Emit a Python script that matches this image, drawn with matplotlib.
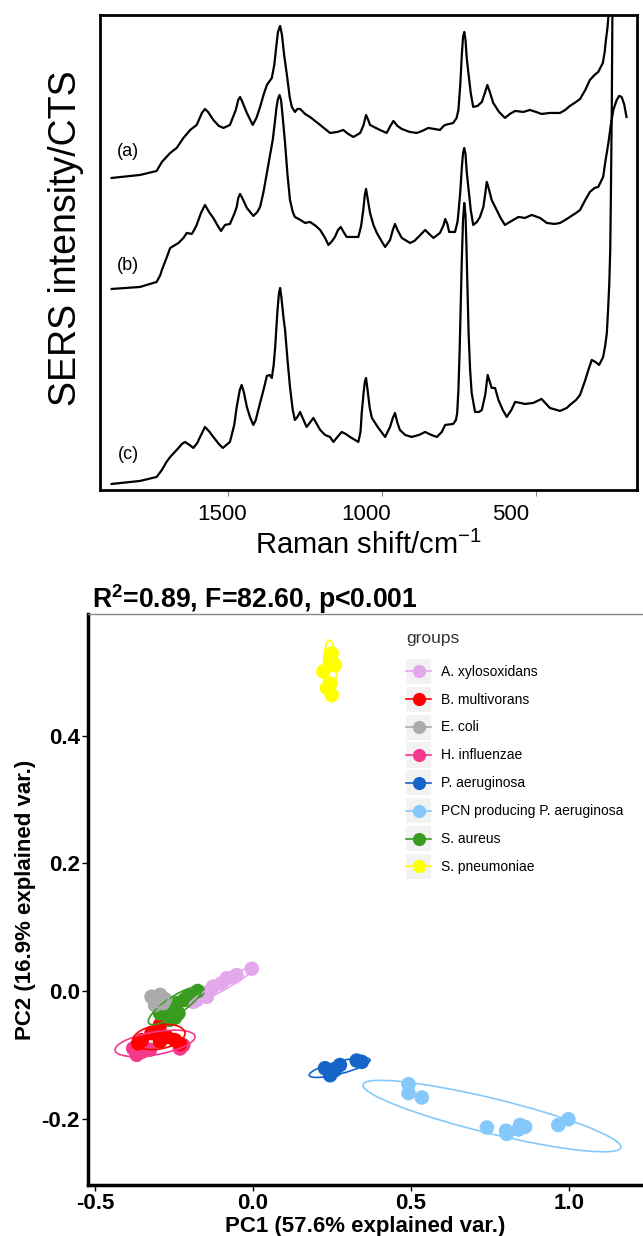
import matplotlib
matplotlib.use('Agg')
import matplotlib.pyplot as plt
import matplotlib.transforms as mtransforms
from matplotlib.patches import Ellipse, Rectangle
from matplotlib.lines import Line2D
from matplotlib.legend_handler import HandlerBase

plt.rcParams['font.family'] = ['Liberation Sans', 'DejaVu Sans']
plt.rcParams['mathtext.fontset'] = 'custom'
plt.rcParams['mathtext.rm'] = 'Liberation Sans'
plt.rcParams['mathtext.bf'] = 'Liberation Sans:bold'
plt.rcParams['mathtext.default'] = 'regular'

# ---------------- SERS spectra (Raman shift cm-1, intensity a.u.) ----------------
shift_a = [1878, 1786, 1732, 1715, 1688, 1667, 1645, 1623, 1602, 1585, 1575, 1565, 1548,
           1530, 1515, 1494, 1475, 1467, 1461, 1455, 1439, 1420, 1408, 1396, 1385, 1374,
           1358, 1350, 1344, 1338, 1331, 1325, 1318, 1309, 1300, 1293, 1283, 1275, 1266,
           1250, 1234, 1201, 1169, 1145, 1126, 1110, 1093, 1071, 1060, 1052, 1045, 1039,
           1020, 1007, 985, 973, 963, 950, 936, 910, 887, 870, 850, 830, 812, 800, 795,
           769, 758, 752, 746, 741, 737, 733, 729, 725, 720, 712, 704, 690, 676, 665, 658,
           650, 639, 620, 601, 585, 568, 541, 520, 500, 482, 455, 422, 405, 390, 370, 357,
           340, 325, 310, 298, 283, 277, 273, 268, 265, 260]
int_a = [312, 315, 319, 328, 337, 342, 352, 360, 365, 377, 381, 378, 370, 364, 362, 365,
         380, 390, 393, 389, 377, 365, 372, 383, 395, 405, 412, 425, 442, 458, 464, 455,
         435, 415, 393, 383, 378, 381, 381, 376, 373, 365, 357, 358, 360, 356, 353, 357,
         365, 375, 370, 365, 362, 360, 357, 364, 369, 364, 361, 358, 357, 359, 362, 361,
         360, 364, 365, 367, 372, 380, 405, 435, 453, 458, 450, 432, 418, 397, 383, 384,
         388, 398, 405, 398, 387, 378, 372, 376, 379, 378, 380, 378, 376, 377, 377, 380,
         384, 388, 391, 400, 410, 415, 418, 427, 438, 450, 462, 473, 510]

shift_b = [1878, 1786, 1732, 1720, 1715, 1700, 1688, 1661, 1645, 1634, 1618, 1610, 1602,
           1588, 1575, 1562, 1548, 1535, 1523, 1510, 1494, 1480, 1472, 1467, 1461, 1454,
           1439, 1418, 1405, 1396, 1385, 1374, 1365, 1355, 1348, 1343, 1338, 1333, 1328,
           1323, 1315, 1307, 1299, 1290, 1283, 1265, 1250, 1234, 1215, 1201, 1185, 1174,
           1162, 1153, 1143, 1134, 1125, 1115, 1093, 1077, 1068, 1061, 1056, 1052, 1047,
           1039, 1028, 1017, 1000, 990, 974, 965, 958, 950, 936, 909, 895, 882, 860, 847,
           833, 812, 800, 795, 788, 782, 763, 755, 752, 746, 741, 737, 733, 729, 725, 720,
           712, 704, 692, 682, 671, 665, 660, 654, 644, 628, 615, 601, 585, 574, 557, 536,
           514, 487, 465, 440, 422, 405, 390, 370, 357, 340, 325, 310, 298, 282, 274, 265,
           257, 249, 238, 230, 222, 214, 206]
int_b = [201, 203, 208, 215, 220, 232, 242, 247, 252, 257, 256, 260, 265, 277, 285, 278,
         272, 265, 259, 265, 266, 276, 283, 292, 296, 292, 282, 274, 278, 283, 298, 317,
         332, 350, 368, 382, 391, 395, 390, 374, 347, 315, 290, 278, 273, 270, 267, 268,
         264, 260, 252, 245, 249, 253, 260, 263, 258, 253, 253, 253, 264, 280, 295, 301,
         292, 277, 265, 257, 248, 243, 250, 260, 266, 260, 252, 247, 249, 253, 260, 256,
         252, 257, 265, 271, 266, 258, 258, 268, 277, 298, 322, 337, 342, 336, 318, 303,
         280, 265, 268, 273, 283, 296, 308, 302, 290, 280, 272, 265, 268, 270, 273, 272,
         275, 272, 267, 266, 267, 270, 273, 277, 280, 290, 298, 302, 303, 313, 330, 347,
         365, 380, 390, 394, 393, 386, 373]

shift_c = [1878, 1786, 1732, 1720, 1715, 1700, 1688, 1661, 1650, 1640, 1625, 1613, 1600,
           1591, 1575, 1560, 1548, 1530, 1517, 1494, 1480, 1472, 1462, 1456, 1449, 1439,
           1428, 1418, 1410, 1402, 1385, 1374, 1365, 1358, 1352, 1347, 1340, 1335, 1331,
           1327, 1320, 1315, 1307, 1299, 1290, 1283, 1275, 1266, 1258, 1245, 1235, 1223,
           1212, 1201, 1185, 1169, 1158, 1145, 1131, 1118, 1104, 1077, 1070, 1066, 1060,
           1056, 1052, 1047, 1040, 1033, 1012, 1000, 990, 974, 965, 958, 950, 942, 925,
           904, 880, 860, 840, 822, 806, 795, 769, 760, 756, 752, 748, 745, 741, 737, 733,
           729, 726, 722, 719, 714, 709, 698, 685, 676, 665, 657, 650, 644, 633, 622, 608,
           595, 580, 568, 550, 536, 509, 482, 470, 455, 422, 400, 390, 370, 357, 340, 330,
           319, 307, 295, 282, 275, 270, 266, 262, 259, 257, 254, 252, 249]
int_c = [6, 9, 13, 18, 20, 28, 33, 42, 46, 48, 45, 42, 47, 53, 63, 58, 53, 46, 42, 48,
         65, 83, 100, 105, 98, 83, 72, 65, 70, 80, 100, 114, 115, 112, 125, 143, 178, 196,
         202, 193, 172, 160, 130, 103, 80, 70, 73, 78, 72, 63, 67, 72, 66, 60, 55, 53, 48,
         53, 58, 56, 53, 48, 58, 77, 97, 108, 112, 100, 82, 72, 62, 57, 53, 63, 72, 77,
         67, 60, 55, 53, 55, 58, 55, 53, 58, 65, 66, 70, 77, 100, 140, 180, 230, 270, 287,
         275, 245, 195, 157, 120, 97, 78, 78, 80, 95, 115, 108, 102, 102, 90, 80, 73, 80,
         88, 87, 86, 87, 91, 87, 82, 79, 82, 85, 90, 95, 110, 120, 130, 128, 125, 133,
         145, 157, 180, 207, 240, 290, 380, 475, 520]

spec_labels = ['(a)', '(b)', '(c)']
spec_label_pos = [(1825, 338), (1825, 224), (1825, 35)]
raman_ticks = [1500, 1000, 500]
raman_label_dx = [-6, -16, -25]  # tick labels sit a little left of their ticks

# ---------------- PCA scores ----------------
groups = ['A. xylosoxidans', 'B. multivorans', 'E. coli', 'H. influenzae',
          'P. aeruginosa', 'PCN producing P. aeruginosa', 'S. aureus', 'S. pneumoniae']
colors = ['#E3A8EB', '#FF0000', '#ABABAB', '#F5388C', '#1565C8', '#84C9FA',
          '#3A9C1E', '#FFFF00']

pc1 = {
    'A. xylosoxidans': [-0.004, -0.052, -0.083, -0.126, -0.141, -0.146, -0.178, -0.189, -0.100, -0.060, -0.160],
    'B. multivorans': [-0.294, -0.321, -0.352, -0.294, -0.247, -0.231, -0.363, -0.273, -0.300],
    'E. coli': [-0.321, -0.294, -0.278, -0.310, -0.284],
    'H. influenzae': [-0.368, -0.379, -0.326, -0.231, -0.221, -0.350],
    'P. aeruginosa': [0.228, 0.244, 0.275, 0.328, 0.344, 0.259],
    'PCN producing P. aeruginosa': [0.492, 0.492, 0.534, 0.740, 0.801, 0.803, 0.845, 0.861, 0.840, 0.966, 0.998],
    'S. aureus': [-0.241, -0.257, -0.236, -0.294, -0.263, -0.247, -0.205, -0.218, -0.175],
    'S. pneumoniae': [0.249, 0.244, 0.223, 0.244, 0.249, 0.259, 0.234],
}
pc2 = {
    'A. xylosoxidans': [0.035, 0.025, 0.020, 0.007, -0.001, -0.009, -0.014, -0.017, 0.012, 0.022, -0.005],
    'B. multivorans': [-0.053, -0.066, -0.077, -0.079, -0.077, -0.083, -0.082, -0.072, -0.068],
    'E. coli': [-0.009, -0.006, -0.013, -0.022, -0.019],
    'H. influenzae': [-0.100, -0.090, -0.092, -0.090, -0.085, -0.095],
    'P. aeruginosa': [-0.121, -0.132, -0.116, -0.109, -0.111, -0.124],
    'PCN producing P. aeruginosa': [-0.146, -0.160, -0.167, -0.214, -0.219, -0.224, -0.210, -0.213, -0.217, -0.210, -0.201],
    'S. aureus': [-0.019, -0.032, -0.035, -0.035, -0.045, -0.042, -0.008, -0.014, 0.000],
    'S. pneumoniae': [0.529, 0.519, 0.501, 0.482, 0.464, 0.511, 0.475],
}
# 68% normal ellipses: centre x, centre y, semi-axes, angle (deg)
ell_cx = [-0.095, -0.298, -0.297, -0.310, 0.274, 0.756, -0.247, 0.243]
ell_cy = [0.009, -0.072, -0.014, -0.082, -0.120, -0.196, -0.023, 0.503]
ell_a = [0.110, 0.083, 0.032, 0.127, 0.097, 0.411, 0.088, 0.047]
ell_b = [0.008, 0.019, 0.011, 0.018, 0.010, 0.028, 0.016, 0.020]
ell_ang = [15.7, 4.0, 10.0, 4.7, 7.0, -6.8, 16.8, 92.0]
draw_order = [0, 3, 1, 6, 2, 4, 5, 7]


class KeyHandler(HandlerBase):
    # grey key square with the group colour as line + dot, like ggplot
    def create_artists(self, legend, orig_handle, xdescent, ydescent, width, height,
                       fontsize, trans):
        c = orig_handle.get_color()
        x0, y0 = -xdescent, -ydescent
        yc = y0 + height / 2
        box = Rectangle((x0, y0), width, height, facecolor='#F2F2F2', edgecolor='none',
                        transform=trans)
        line = Line2D([x0, x0 + width], [yc, yc], color=c, lw=1.2, transform=trans)
        dot = Line2D([x0 + width / 2], [yc], color=c, marker='o', markersize=9.5, lw=0,
                     markeredgewidth=0, transform=trans)
        return [box, line, dot]


fig = plt.figure(figsize=(6.43, 12.36), dpi=100)

# ---- top: spectra ----
ax1 = fig.add_axes([0.1555, 0.6036, 0.8352, 0.3843])
for sx, sy in [(shift_a, int_a), (shift_b, int_b), (shift_c, int_c)]:
    ax1.plot(sx, sy, color='black', lw=1.6, solid_joinstyle='round')
for lab, (lx, ly) in zip(spec_labels, spec_label_pos):
    ax1.text(lx, ly, lab, fontsize=13, ha='center', va='center')
ax1.set_xlim(1916, 172)
ax1.set_ylim(0, 475)
ax1.set_xticks(raman_ticks)
ax1.set_yticks([])
ax1.tick_params(axis='x', labelsize=16, length=4, color='#888888', pad=6)
for lbl, dx in zip(ax1.get_xticklabels(), raman_label_dx):
    lbl.set_transform(lbl.get_transform() +
                      mtransforms.ScaledTranslation(dx / 100, 0, fig.dpi_scale_trans))
for sp in ax1.spines.values():
    sp.set_linewidth(2.0)
ax1.set_xlabel('Raman shift/cm$^{-1}$', fontsize=21, labelpad=4)
ax1.set_ylabel('SERS intensity/CTS', fontsize=27)
ax1.yaxis.set_label_coords(-0.03, 0.53)

# ---- bottom: PCA biplot ----
ax2 = fig.add_axes([0.1369, 0.0413, 0.8631, 0.4619])
for i in draw_order:
    g = groups[i]
    ax2.scatter(pc1[g], pc2[g], s=110, color=colors[i], edgecolors='none', zorder=2)
for i in draw_order:
    ax2.add_patch(Ellipse((ell_cx[i], ell_cy[i]), 2 * ell_a[i], 2 * ell_b[i],
                          angle=ell_ang[i], fill=False, edgecolor=colors[i],
                          lw=1.2, zorder=3))
ax2.set_xlim(-0.522, 1.234)
ax2.set_ylim(-0.304, 0.591)
ax2.set_xticks([-0.5, 0.0, 0.5, 1.0])
ax2.set_yticks([-0.2, 0.0, 0.2, 0.4])
ax2.set_xticklabels(['-0.5', '0.0', '0.5', '1.0'])
ax2.set_yticklabels(['-0.2', '0.0', '0.2', '0.4'])
ax2.tick_params(labelsize=16, length=4, width=1, pad=2)
for lbl in ax2.get_xticklabels() + ax2.get_yticklabels():
    lbl.set_fontweight('bold')
ax2.spines['left'].set_linewidth(2.5)
ax2.spines['bottom'].set_linewidth(2.5)
ax2.spines['top'].set_linewidth(1.0)
ax2.spines['top'].set_color('#888888')
ax2.spines['right'].set_visible(False)
ax2.set_xlabel('PC1 (57.6% explained var.)', fontsize=16, fontweight='bold', labelpad=1)
ax2.set_ylabel('PC2 (16.9% explained var.)', fontsize=16, fontweight='bold', labelpad=4)
ax2.text(0.007, 0.997, r'R$^\mathbf{2}$=0.89, F=82.60, p<0.001', transform=ax2.transAxes,
         fontsize=19.2, fontweight='bold', ha='left', va='bottom')

handles = [Line2D([], [], color=c) for c in colors]
leg = ax2.legend(handles, groups, title='groups', loc='upper left',
                 bbox_to_anchor=(0.573, 0.9695), frameon=False, fontsize=10,
                 title_fontsize=12.5, handlelength=1.8, handleheight=2.4,
                 labelspacing=0.2, handletextpad=0.7, borderpad=0, borderaxespad=0,
                 alignment='left', handler_map={Line2D: KeyHandler()})
leg.get_title().set_color('#333333')
leg._legend_box.sep = 9

fig.savefig('out.png', dpi=100)
